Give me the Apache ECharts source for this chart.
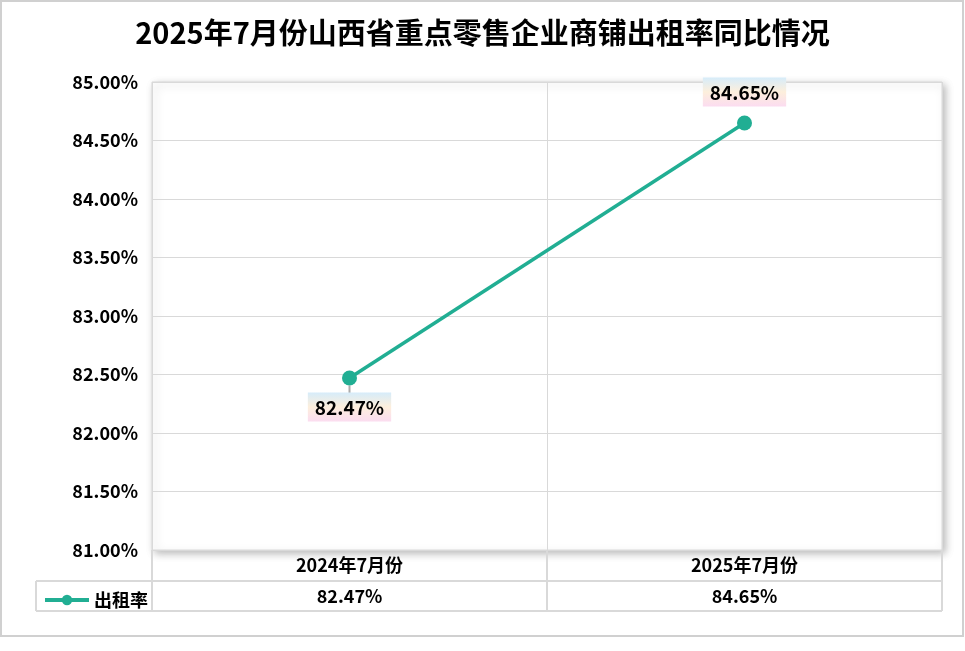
<!DOCTYPE html>
<html>
<head>
<meta charset="utf-8">
<script src="https://cdn.jsdelivr.net/npm/echarts@6/dist/echarts.min.js"></script>
<style>
html,body{margin:0;padding:0;background:#fff;}
#c{width:965px;height:651px;}
</style>
</head>
<body>
<div id="c"></div>
<script>
const titleText = '2025年7月份山西省重点零售企业商铺出租率同比情况';
const categories = ['2024年7月份', '2025年7月份'];
const seriesName = '出租率';
const rates = [82.47, 84.65];
const yMin = 81, yMax = 85, yStep = 0.5;

const FONT = '"Noto Sans CJK SC", "Noto Sans", sans-serif';
const TEAL = '#21ae93';
const GRID_C = '#d9d9d9';
const fmt = v => v.toFixed(2) + '%';

const labelBg = new echarts.graphic.LinearGradient(0, 0, 0, 1, [
  {offset: 0, color: '#d6ecfa'},
  {offset: 0.5, color: '#fdefdc'},
  {offset: 1, color: '#fbdcf0'}
]);

const chart = echarts.init(document.getElementById('c'), null, {renderer: 'canvas'});

const L = 152, R = 942, T = 82, B = 550;
const lineStyle = {stroke: GRID_C, lineWidth: 2};

chart.setOption({
  backgroundColor: '#fff',
  animation: false,
  title: {
    text: titleText,
    left: 'center',
    top: 13,
    textStyle: {fontFamily: FONT, fontSize: 29, fontWeight: 'bold', color: '#000'}
  },
  legend: {
    left: 38,
    top: 586,
    itemWidth: 44,
    itemHeight: 13,
    itemGap: 8,
    lineStyle: {width: 4},
    textStyle: {fontFamily: FONT, fontSize: 18, fontWeight: 'bold', color: '#000'},
    data: [seriesName]
  },
  grid: {
    left: L, right: 965 - R, top: T, bottom: 651 - B,
    show: true,
    backgroundColor: '#fff',
    borderColor: GRID_C,
    borderWidth: 1,
    shadowColor: 'rgba(0,0,0,0.28)',
    shadowBlur: 8,
    shadowOffsetX: 3,
    shadowOffsetY: 3
  },
  xAxis: [{
    type: 'category',
    data: categories,
    boundaryGap: true,
    axisLine: {show: false},
    axisTick: {show: false},
    splitLine: {show: true, lineStyle: {color: GRID_C, width: 1}},
    axisLabel: {fontFamily: FONT, fontSize: 18, fontWeight: 'bold', color: '#000', margin: 6}
  }, {
    type: 'category',
    position: 'bottom',
    offset: 31,
    data: rates.map(fmt),
    boundaryGap: true,
    axisLine: {show: false},
    axisTick: {show: false},
    splitLine: {show: false},
    axisLabel: {fontFamily: FONT, fontSize: 18, fontWeight: 'bold', color: '#000', margin: 6}
  }],
  yAxis: {
    type: 'value',
    min: yMin, max: yMax, interval: yStep,
    axisLine: {show: false},
    axisTick: {show: false},
    splitLine: {show: true, lineStyle: {color: GRID_C, width: 1}},
    axisLabel: {formatter: v => fmt(v), fontFamily: FONT, fontSize: 18, fontWeight: 'bold', color: '#000', margin: 14}
  },
  series: [{
    name: seriesName,
    type: 'line',
    xAxisIndex: 0,
    data: rates.map((v, i) => ({
      value: v,
      label: {position: i === 0 ? 'bottom' : 'top', distance: i === 0 ? 7 : 9},
      labelLine: {show: i === 0, lineStyle: {color: '#aaa', width: 2}}
    })),
    symbol: 'circle',
    symbolSize: 15,
    lineStyle: {color: TEAL, width: 3.5},
    itemStyle: {color: TEAL},
    label: {
      show: true,
      formatter: p => fmt(p.value),
      fontFamily: FONT, fontSize: 19, fontWeight: 'bold', color: '#000',
      backgroundColor: labelBg,
      padding: [6, 7, 4, 7]
    }
  }],
  graphic: [
    {type: 'rect', silent: true, z: -10, shape: {x: 1, y: 1, width: 962, height: 635}, style: {fill: null, stroke: '#d0d0d0', lineWidth: 2}},
    {type: 'line', silent: true, shape: {x1: 36, y1: 581, x2: R, y2: 581}, style: lineStyle},
    {type: 'line', silent: true, shape: {x1: 36, y1: 611, x2: R, y2: 611}, style: lineStyle},
    {type: 'line', silent: true, shape: {x1: 36, y1: 581, x2: 36, y2: 611}, style: lineStyle},
    {type: 'line', silent: true, shape: {x1: L, y1: B, x2: L, y2: 611}, style: lineStyle},
    {type: 'line', silent: true, shape: {x1: (L + R) / 2, y1: B, x2: (L + R) / 2, y2: 611}, style: lineStyle},
    {type: 'line', silent: true, shape: {x1: R, y1: B, x2: R, y2: 611}, style: lineStyle}
  ]
});
</script>
</body>
</html>
